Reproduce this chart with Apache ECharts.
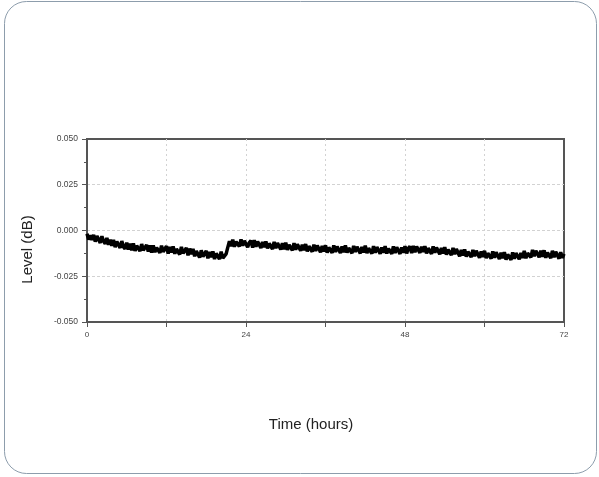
<!DOCTYPE html>
<html>
<head>
<meta charset="utf-8">
<script src="https://cdn.jsdelivr.net/npm/echarts@6/dist/echarts.min.js"></script>
<style>html,body{margin:0;padding:0;background:#fff}#c{width:599px;height:477px}</style>
</head>
<body>
<div id="c"></div>
<script>
// Sampling step of the recorded trace (hours)
const stepHours = 0.25;
const xTicks = [0, 24, 48, 72];
const yTicks = [-0.050, -0.025, 0.000, 0.025, 0.050];
// Level readings (dB), one per step
const levels = [
-0.0018,-0.0049,-0.0027,-0.0052,
-0.0024,-0.0061,-0.0030,-0.0038,
-0.0068,-0.0031,-0.0059,-0.0072,
-0.0041,-0.0078,-0.0050,-0.0083,
-0.0052,-0.0091,-0.0060,-0.0064,
-0.0095,-0.0058,-0.0089,-0.0100,
-0.0066,-0.0104,-0.0072,-0.0109,
-0.0070,-0.0112,-0.0083,-0.0078,
-0.0113,-0.0074,-0.0108,-0.0118,
-0.0079,-0.0115,-0.0082,-0.0121,
-0.0081,-0.0119,-0.0094,-0.0085,
-0.0122,-0.0083,-0.0117,-0.0125,
-0.0086,-0.0126,-0.0090,-0.0120,
-0.0087,-0.0127,-0.0101,-0.0091,
-0.0131,-0.0090,-0.0125,-0.0134,
-0.0095,-0.0136,-0.0099,-0.0129,
-0.0101,-0.0141,-0.0112,-0.0104,
-0.0148,-0.0108,-0.0143,-0.0150,
-0.0112,-0.0152,-0.0117,-0.0146,
-0.0114,-0.0156,-0.0125,-0.0118,
-0.0157,-0.0116,-0.0151,-0.0160,
-0.0128,-0.0092,-0.0058,-0.0086,
-0.0050,-0.0089,-0.0061,-0.0054,
-0.0087,-0.0049,-0.0083,-0.0056,
-0.0052,-0.0091,-0.0066,-0.0055,
-0.0093,-0.0053,-0.0089,-0.0060,
-0.0057,-0.0096,-0.0063,-0.0092,
-0.0060,-0.0098,-0.0071,-0.0064,
-0.0101,-0.0062,-0.0097,-0.0068,
-0.0065,-0.0104,-0.0070,-0.0102,
-0.0067,-0.0106,-0.0078,-0.0071,
-0.0109,-0.0069,-0.0105,-0.0075,
-0.0072,-0.0111,-0.0077,-0.0108,
-0.0074,-0.0114,-0.0086,-0.0078,
-0.0116,-0.0077,-0.0112,-0.0082,
-0.0079,-0.0119,-0.0084,-0.0115,
-0.0081,-0.0121,-0.0093,-0.0085,
-0.0122,-0.0082,-0.0117,-0.0088,
-0.0083,-0.0123,-0.0087,-0.0119,
-0.0082,-0.0121,-0.0096,-0.0086,
-0.0124,-0.0084,-0.0118,-0.0089,
-0.0085,-0.0125,-0.0090,-0.0120,
-0.0083,-0.0124,-0.0097,-0.0087,
-0.0126,-0.0086,-0.0121,-0.0091,
-0.0087,-0.0127,-0.0092,-0.0122,
-0.0086,-0.0126,-0.0099,-0.0089,
-0.0127,-0.0087,-0.0123,-0.0092,
-0.0088,-0.0128,-0.0093,-0.0121,
-0.0085,-0.0125,-0.0098,-0.0087,
-0.0123,-0.0084,-0.0119,-0.0088,
-0.0083,-0.0122,-0.0089,-0.0117,
-0.0086,-0.0125,-0.0097,-0.0088,
-0.0127,-0.0087,-0.0122,-0.0093,
-0.0090,-0.0130,-0.0095,-0.0126,
-0.0091,-0.0132,-0.0104,-0.0096,
-0.0135,-0.0095,-0.0130,-0.0101,
-0.0100,-0.0141,-0.0106,-0.0137,
-0.0103,-0.0143,-0.0116,-0.0108,
-0.0146,-0.0106,-0.0141,-0.0111,
-0.0109,-0.0149,-0.0114,-0.0145,
-0.0111,-0.0151,-0.0124,-0.0115,
-0.0154,-0.0114,-0.0149,-0.0119,
-0.0116,-0.0156,-0.0121,-0.0152,
-0.0118,-0.0159,-0.0131,-0.0122,
-0.0160,-0.0120,-0.0154,-0.0124,
-0.0117,-0.0157,-0.0122,-0.0150,
-0.0112,-0.0152,-0.0124,-0.0116,
-0.0147,-0.0106,-0.0141,-0.0111,
-0.0105,-0.0146,-0.0110,-0.0143,
-0.0108,-0.0149,-0.0121,-0.0112,
-0.0151,-0.0111,-0.0146,-0.0116,
-0.0113,-0.0154,-0.0119,-0.0150,
-0.0128
];
const seriesData = levels.map((v, i) => [i * stepHours, v]);

const chart = echarts.init(document.getElementById('c'), null, {renderer: 'canvas'});
chart.setOption({
  animation: false,
  backgroundColor: '#fff',
  graphic: [{
    type: 'rect', silent: true, z: -1,
    shape: {x: 4.5, y: 1.5, width: 592, height: 472, r: 22},
    style: {fill: '#fff', stroke: '#8d9dac', lineWidth: 1}
  }],
  grid: {left: 87, right: 35, top: 139, bottom: 155, show: true, borderColor: '#555', borderWidth: 2, backgroundColor: 'transparent'},
  xAxis: {
    type: 'value', min: 0, max: 72, interval: 12,
    name: 'Time (hours)', nameLocation: 'middle', nameGap: 95,
    nameTextStyle: {fontFamily: 'Liberation Sans', fontSize: 15, color: '#222', padding: [0, 29, 0, 0]},
    axisLine: {show: true, onZero: false, lineStyle: {color: '#555', width: 2}},
    axisTick: {show: true, length: 5, lineStyle: {color: '#555', width: 1}},
    axisLabel: {
      fontFamily: 'Liberation Sans', fontSize: 8, color: '#444', margin: 9,
      formatter: v => (xTicks.indexOf(v) >= 0 ? String(v) : '')
    },
    splitLine: {show: true, showMinLine: false, showMaxLine: false, lineStyle: {color: '#d2d2d2', type: [2, 3], width: 1}}
  },
  yAxis: {
    type: 'value', min: -0.05, max: 0.05, interval: 0.025,
    name: 'Level (dB)', nameLocation: 'middle', nameGap: 52,
    nameTextStyle: {fontFamily: 'Liberation Sans', fontSize: 15, color: '#222', padding: [0, 38, 0, 0]},
    axisLine: {show: true, lineStyle: {color: '#555', width: 2}},
    axisTick: {show: true, length: 5, lineStyle: {color: '#555'}},
    minorTick: {show: true, splitNumber: 2, length: 3, lineStyle: {color: '#555'}},
    axisLabel: {
      fontFamily: 'Liberation Sans', fontSize: 8.5, color: '#444', margin: 9,
      formatter: v => yTicks.reduce((a, t) => Math.abs(t - v) < 1e-9 ? t.toFixed(3) : a, v.toFixed(3))
    },
    splitLine: {show: true, showMinLine: false, showMaxLine: false, lineStyle: {color: '#d2d2d2', type: [3, 2], width: 1}}
  },
  series: [{
    type: 'line', data: seriesData, showSymbol: false, symbol: 'none',
    lineStyle: {color: '#000', width: 3.5}, z: 3
  }]
});
</script>
</body>
</html>
